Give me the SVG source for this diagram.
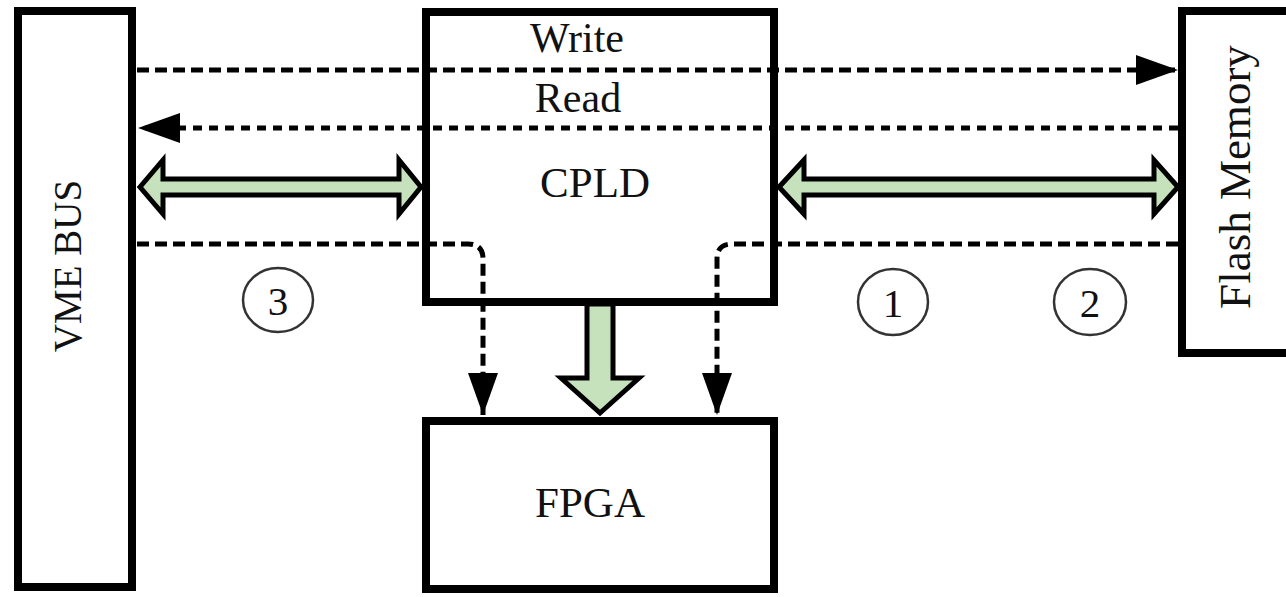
<svg xmlns="http://www.w3.org/2000/svg" width="1286" height="597" viewBox="0 0 1286 597">
<style>
.box{fill:#fff;stroke:#000;stroke-width:8}
.lbl{font-family:"Liberation Serif","Times New Roman",serif;fill:#111;text-anchor:middle}
.dash{fill:none;stroke:#000;stroke-width:5}
.d1{stroke-dasharray:12 6}
.d2{stroke-dasharray:9 7}
.fat{fill:#c6e2bd;stroke:#000;stroke-width:5;stroke-linejoin:miter}
.num{fill:none;stroke:#333;stroke-width:2.5}
</style>
<defs>
<marker id="ah" viewBox="0 0 42 30" refX="42" refY="15" markerWidth="42" markerHeight="30" markerUnits="userSpaceOnUse" orient="auto">
<polygon points="0,0 42,15 0,30" fill="#000"/>
</marker>
</defs>
<rect width="1286" height="597" fill="#fff"/>
<g id="vme">
<rect class="box" x="18" y="11" width="114" height="576"/>
<text class="lbl" font-size="39" transform="translate(81,266) rotate(-90)">VME BUS</text>
</g>
<g id="cpld">
<rect class="box" x="426" y="12" width="348" height="290"/>
<text class="lbl" font-size="43" x="595" y="197">CPLD</text>
</g>
<g id="fpga">
<rect class="box" x="426" y="421" width="348" height="168"/>
<text class="lbl" font-size="43" x="590" y="517">FPGA</text>
</g>
<g id="flash">
<rect class="box" x="1182" y="11" width="130" height="342"/>
<text class="lbl" font-size="45" transform="translate(1250,177) rotate(-90)">Flash Memory</text>
</g>
<g id="connectors">
<path class="dash d1" d="M137,70 H1178" marker-end="url(#ah)"/>
<path class="dash d2" d="M1178,128 H138" marker-end="url(#ah)"/>
<path class="dash d1" d="M137,244 H468 Q483,244 483,259 V415" marker-end="url(#ah)"/>
<path class="dash d1" d="M1178,244 H732 Q717,244 717,259 V415" marker-end="url(#ah)"/>
<path class="fat" d="M140,187 L163,160 L163,179 L399,179 L399,160 L421,187 L399,214 L399,195 L163,195 L163,214 Z"/>
<path class="fat" d="M779,187 L804,160 L804,179 L1154,179 L1154,160 L1178,187 L1154,214 L1154,195 L804,195 L804,214 Z"/>
<path class="fat" d="M587,304 L587,378 L561,378 L600,413 L639,378 L613,378 L613,304 Z"/>
</g>
<g id="labels">
<text class="lbl" font-size="42" x="577" y="52">Write</text>
<text class="lbl" font-size="42" x="578" y="112">Read</text>
</g>
<g id="marks">
<ellipse class="num" cx="278" cy="300" rx="35" ry="32"/>
<text class="lbl" font-size="41" x="278" y="315">3</text>
<ellipse class="num" cx="893" cy="302" rx="35" ry="33"/>
<text class="lbl" font-size="41" x="893" y="317">1</text>
<ellipse class="num" cx="1090" cy="302" rx="36" ry="33"/>
<text class="lbl" font-size="41" x="1090" y="317">2</text>
</g>
</svg>
